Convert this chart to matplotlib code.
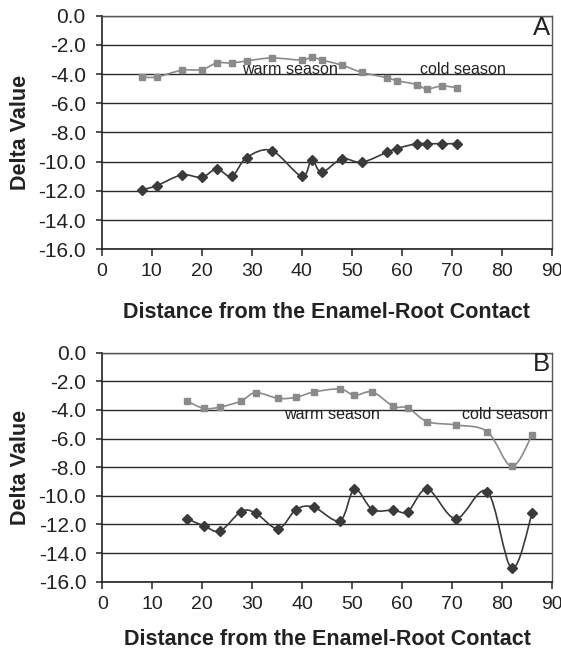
import matplotlib
matplotlib.use("Agg")
import matplotlib.pyplot as plt
import numpy as np
from matplotlib.path import Path
from matplotlib.patches import PathPatch

plt.rcParams['font.family'] = ['Liberation Sans', 'DejaVu Sans']

# panel A
a_x = [8, 11, 16, 20, 23, 26, 29, 34, 40, 42, 44, 48, 52, 57, 59, 63, 65, 68, 71]
a_warm = [-4.2, -4.2, -3.74, -3.7, -3.24, -3.24, -3.1, -2.9, -3.04, -2.83, -3.04, -3.38,
          -3.88, -4.25, -4.45, -4.72, -5.02, -4.82, -4.93]
a_low = [-11.94, -11.64, -10.91, -11.07, -10.5, -11.0, -9.72, -9.24, -11.0, -9.88, -10.73,
         -9.81, -10.04, -9.36, -9.1, -8.77, -8.77, -8.77, -8.77]

# panel B
b_x = [17, 20.3, 23.6, 27.8, 30.7, 35.2, 38.8, 42.3, 47.6, 50.5, 54.1, 58.3, 61.2, 65.1,
       70.8, 77.1, 82, 86.1]
b_warm = [-3.38, -3.89, -3.8, -3.38, -2.79, -3.19, -3.12, -2.75, -2.54, -2.98, -2.75, -3.75,
          -3.86, -4.82, -5.05, -5.52, -7.94, -5.73]
b_low = [-11.6, -12.1, -12.45, -11.1, -11.2, -12.3, -10.96, -10.78, -11.74, -9.53, -10.96,
         -11.0, -11.1, -9.53, -11.6, -9.71, -15.07, -11.2]

y_ticks = [0, -2, -4, -6, -8, -10, -12, -14, -16]
x_ticks = [0, 10, 20, 30, 40, 50, 60, 70, 80, 90]

gray = '#8a8a8a'
dark = '#3a3a3a'
ink = '#222222'


def smooth(ax, x, y, color):
    # excel-style smoothed line (cubic bezier through the points)
    p = np.column_stack([x, y]).astype(float)
    n = len(p)
    verts = [p[0]]
    codes = [Path.MOVETO]
    for i in range(n - 1):
        p0 = p[i - 1] if i > 0 else p[i]
        p1 = p[i]
        p2 = p[i + 1]
        p3 = p[i + 2] if i + 2 < n else p[i + 1]
        c1 = p1 + (p2 - p0) / 6.0
        c2 = p2 - (p3 - p1) / 6.0
        verts += [c1, c2, p2]
        codes += [Path.CURVE4] * 3
    ax.add_patch(PathPatch(Path(verts, codes), fill=False, edgecolor=color, lw=1.2, zorder=3))


fig = plt.figure(figsize=(5.61, 6.49), dpi=100)
axA = fig.add_axes([0.1813, 0.6159, 0.8021, 0.36])
axB = fig.add_axes([0.1824, 0.1037, 0.801, 0.3529])

panels = [
    (axA, a_x, a_warm, a_low, 'A', [(28, -3.67, 'warm season'), (63.7, -3.67, 'cold season')], 0.5096),
    (axB, b_x, b_warm, b_low, 'B', [(36.4, -4.35, 'warm season'), (72.1, -4.35, 'cold season')], 0.0065),
]

for ax, x, warm, low, letter, notes, label_y in panels:
    ax.set_xlim(0, 90)
    ax.set_ylim(-16, 0)
    for yv in y_ticks:
        ax.axhline(yv, color='#2a2a2a', lw=1.0, zorder=1)
    smooth(ax, x, warm, gray)
    smooth(ax, x, low, dark)
    ax.plot(x, warm, ls='none', marker='s', ms=5, color=gray, zorder=4)
    ax.plot(x, low, ls='none', marker='D', ms=4.8, color=dark, zorder=4)
    for tx, ty, s in notes:
        ax.text(tx, ty, s, fontsize=11.6, color=ink, va='center', ha='left', zorder=5)
    ax.text(89.6, -0.82, letter, fontsize=18.5, color=ink, va='center', ha='right')
    ax.set_xticks(x_ticks)
    ax.set_yticks(y_ticks)
    ax.set_yticklabels(['%.1f' % v for v in y_ticks])
    ax.tick_params(axis='both', colors=ink, width=1.1)
    ax.tick_params(axis='x', length=5, pad=5, labelsize=14)
    ax.tick_params(axis='y', length=4.5, pad=7, labelsize=15)
    for side in ['top', 'right']:
        ax.spines[side].set_color('#555555')
        ax.spines[side].set_linewidth(1.0)
    for side in ['left', 'bottom']:
        ax.spines[side].set_color(ink)
        ax.spines[side].set_linewidth(1.2)
    ax.set_ylabel('Delta Value', fontsize=15.5, fontweight='bold', color=ink)
    ax.yaxis.set_label_coords(-0.158, 0.5)
    pos = ax.get_position()
    fig.text((pos.x0 + pos.x1) / 2, label_y, 'Distance from the Enamel-Root Contact',
             fontsize=15.5, fontweight='bold', color=ink, ha='center', va='baseline')

fig.savefig('out.png', dpi=100)
